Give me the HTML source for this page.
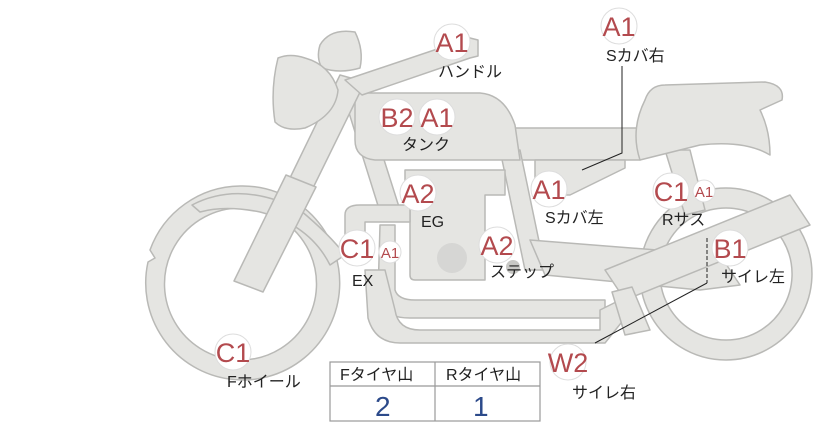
<!DOCTYPE html>
<html><head><meta charset="utf-8"><style>
html,body{margin:0;padding:0;background:#fff;}
svg{display:block}
.t{font-family:"Liberation Sans","Noto Sans CJK JP",sans-serif;font-size:16px;fill:#222;}
.b{font-family:"Liberation Sans","Noto Sans CJK JP",sans-serif;font-size:27px;fill:#b34a4e;text-anchor:middle;}
.s{font-family:"Liberation Sans","Noto Sans CJK JP",sans-serif;font-size:15px;fill:#b34a4e;text-anchor:middle;}
</style></head><body>
<svg width="822" height="425" viewBox="0 0 822 425" xmlns="http://www.w3.org/2000/svg">
<g fill="#e5e5e2" stroke="#b9b9b6" stroke-width="1.5" stroke-linejoin="round">
<path d="M240,186 A97,97 0 1 1 148,262 L155,258 L150,250 A97,97 0 0 1 240,186 Z M240,208 A76,76 0 1 0 241,208 Z" fill-rule="evenodd"/>
<path d="M726,188 A86,86 0 1 1 725.9,188 Z M726,208 A66,66 0 1 0 726.1,208 Z" fill-rule="evenodd"/>
<path d="M515,128 L640,128 L640,160 L515,160 Z"/>
<path d="M535,160 L625,160 L625,168 L570,195 L535,195 Z"/>
<path d="M665,150 L690,150 L705,210 L685,215 Z"/>
<path d="M500,150 L520,150 L545,270 L525,270 Z"/>
<path d="M345,100 L365,100 L400,210 L380,212 Z"/>
<path d="M380,225 L395,225 L395,290 Q398,300 415,300 L605,300 L605,318 L410,318 Q380,318 378,295 Z"/>
<path d="M365,270 L385,270 L395,310 Q398,330 420,330 L600,330 L600,310 L620,300 L625,318 L605,343 L400,343 Q375,343 368,318 Z"/>
<path d="M530,240 L720,255 L740,285 L700,290 L545,275 Z"/>
<path d="M405,170 L505,170 L505,195 L485,195 L485,280 L415,280 Q410,280 410,275 L410,195 L405,195 Z"/>
<path d="M345,215 Q345,205 360,205 L410,205 L410,222 L365,222 L365,245 L345,245 Z"/>
<path d="M355,93 L480,93 Q505,95 515,125 L520,160 L375,160 Q355,158 355,140 Z"/>
<path d="M645,100 Q650,85 665,85 L765,82 Q785,85 782,100 L760,110 Q770,130 770,155 Q745,140 700,145 L640,160 Q630,130 645,100 Z"/>
<path d="M605,270 L790,195 L810,225 L625,300 Z"/>
<path d="M612,292 L632,287 L650,330 L625,335 Z"/>
<path d="M192,205 Q240,180 300,210 Q330,235 345,255 L330,265 Q310,225 260,212 Q225,205 200,212 Z"/>
<path d="M340,75 L365,82 L312,190 L288,182 Z"/>
<path d="M286,175 L316,187 L263,292 L234,281 Z"/>
<path d="M345,80 L470,38 L478,40 L478,56 L470,58 L362,95 Z"/>
<path d="M320,45 Q330,28 355,32 Q364,50 360,68 Q340,74 322,68 Q316,58 320,45 Z"/>
<path d="M278,58 Q290,53 305,58 Q330,65 338,90 Q336,115 305,128 Q285,132 275,122 Q270,90 278,58 Z"/>
</g>
<circle cx="452" cy="258" r="15" fill="#d6d6d4"/>
<circle cx="513" cy="267" r="7" fill="#c8c8c5"/>
<g stroke="#222" stroke-width="1" fill="none">
<polyline points="622,66 622,153 582,170" />
<line x1="707" y1="238" x2="707" y2="283" stroke-dasharray="4,2"/>
<line x1="707" y1="283" x2="595" y2="343"/>
</g>
<g fill="#fff" stroke="#ddd" stroke-width="1">
<circle cx="452" cy="42" r="18"/><circle cx="619" cy="26" r="18"/>
<circle cx="397" cy="117" r="18"/><circle cx="437" cy="117" r="18"/>
<circle cx="418" cy="193" r="18"/><circle cx="549" cy="189" r="18"/>
<circle cx="671" cy="191" r="18"/><circle cx="704" cy="191" r="11"/>
<circle cx="730" cy="248" r="18"/><circle cx="357" cy="248" r="18"/>
<circle cx="390" cy="252" r="11"/><circle cx="497" cy="245" r="18"/>
<circle cx="233" cy="352" r="18"/><circle cx="568" cy="362" r="18"/>
</g>
<text class="b" x="452" y="52">A1</text>
<text class="b" x="619" y="36">A1</text>
<text class="b" x="397" y="127">B2</text>
<text class="b" x="437" y="127">A1</text>
<text class="b" x="418" y="203">A2</text>
<text class="b" x="549" y="199">A1</text>
<text class="b" x="671" y="201">C1</text>
<text class="s" x="704" y="197">A1</text>
<text class="b" x="730" y="258">B1</text>
<text class="b" x="357" y="258">C1</text>
<text class="s" x="390" y="258">A1</text>
<text class="b" x="497" y="255">A2</text>
<text class="b" x="233" y="362">C1</text>
<text class="b" x="568" y="372">W2</text>
<text class="t" x="438" y="77">ハンドル</text>
<text class="t" x="606" y="61">Sカバ右</text>
<text class="t" x="402" y="150">タンク</text>
<text class="t" x="421" y="227">EG</text>
<text class="t" x="545" y="223">Sカバ左</text>
<text class="t" x="662" y="225">Rサス</text>
<text class="t" x="721" y="282">サイレ左</text>
<text class="t" x="352" y="286">EX</text>
<text class="t" x="490" y="277">ステップ</text>
<text class="t" x="227" y="387">Fホイール</text>
<text class="t" x="572" y="398">サイレ右</text>
<g fill="none" stroke="#999" stroke-width="1.2">
<rect x="330" y="362" width="210" height="59"/>
<line x1="330" y1="386" x2="540" y2="386"/>
<line x1="435" y1="362" x2="435" y2="421"/>
</g>
<text class="t" x="340" y="380">Fタイヤ山</text>
<text class="t" x="446" y="380">Rタイヤ山</text>
<text x="375" y="416" font-family="Liberation Sans,sans-serif" font-size="28" fill="#2c4a8a">2</text>
<text x="473" y="416" font-family="Liberation Sans,sans-serif" font-size="28" fill="#2c4a8a">1</text>
</svg>
</body></html>
